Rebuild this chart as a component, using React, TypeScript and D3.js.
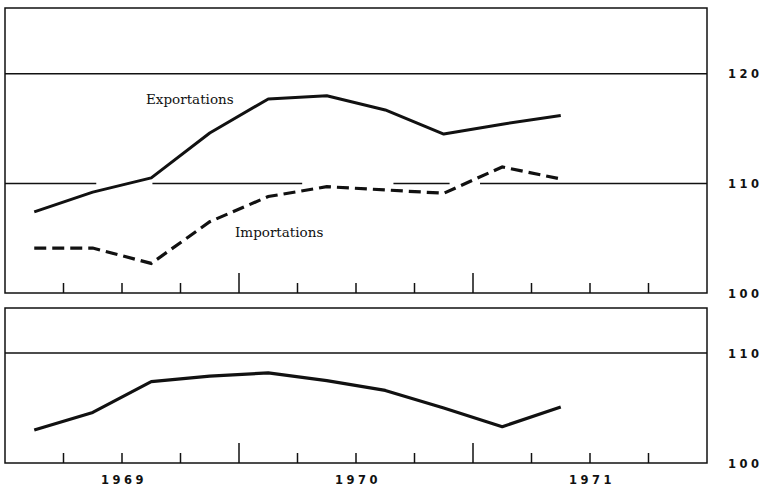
import React, { useEffect, useRef } from "react";
import * as d3 from "d3";

// trimestres (année-trimestre)
const periods = ["1969-1", "1969-2", "1969-3", "1969-4", "1970-1", "1970-2", "1970-3", "1970-4", "1971-1", "1971-2"];
const exportations = [107.4, 109.2, 110.5, 114.6, 117.7, 118.0, 116.7, 114.5, 115.4, 116.2];
const importations = [104.1, 104.1, 102.7, 106.5, 108.8, 109.7, 109.4, 109.1, 111.5, 110.4];
const balance = [103.0, 104.6, 107.4, 107.9, 108.2, 107.5, 106.6, 105.0, 103.3, 105.1];

const years = ["1969", "1970", "1971"];
const topTicks = [100, 110, 120];
const bottomTicks = [100, 110];
// segments visibles de la ligne 110 du graphique du haut (coupures de l'original)
const gridSegments110 = [[1969.0, 1969.39], [1969.63, 1970.27], [1970.66, 1970.9], [1971.03, 1972.0]];

const toTime = (p: string) => {
    const [y, q] = p.split("-").map(Number);
    return y + (q - 0.5) / 4;
};

const App: React.FC = () => {
    const svgRef = useRef<SVGSVGElement | null>(null);

    useEffect(() => {
        if (!svgRef.current) return;
        const svg = d3.select(svgRef.current);
        svg.selectAll("*").remove();

        const x = d3.scaleLinear().domain([1969, 1972]).range([5, 707]);
        const yTop = d3.scaleLinear().domain([100, 126]).range([293, 8]);
        const yBot = d3.scaleLinear().domain([100, 114.1]).range([463, 308]);

        const labelFont = "DejaVu Sans";

        const drawPanel = (y: d3.ScaleLinear<number, number>, ticks: number[], full110: boolean) => {
            const [y0, y1] = y.range();
            // grilles
            ticks.filter((t) => t > 100).forEach((t) => {
                if (t === 110 && !full110) {
                    gridSegments110.forEach(([a, b]) => {
                        svg.append("line")
                            .attr("x1", x(a)).attr("x2", x(b))
                            .attr("y1", y(t)).attr("y2", y(t))
                            .attr("stroke", "#111").attr("stroke-width", 1.5);
                    });
                } else {
                    svg.append("line")
                        .attr("x1", x(1969)).attr("x2", x(1972))
                        .attr("y1", y(t)).attr("y2", y(t))
                        .attr("stroke", "#111").attr("stroke-width", 1.5);
                }
            });
            // cadre
            svg.append("rect")
                .attr("x", x(1969)).attr("y", y1)
                .attr("width", x(1972) - x(1969)).attr("height", y0 - y1)
                .attr("fill", "none").attr("stroke", "#111").attr("stroke-width", 1.5);
            // graduations trimestrielles
            d3.range(1, 12).forEach((i) => {
                const t = 1969 + i / 4;
                const major = i % 4 === 0;
                svg.append("line")
                    .attr("x1", x(t)).attr("x2", x(t))
                    .attr("y1", y0).attr("y2", y0 - (major ? 20 : 10))
                    .attr("stroke", "#111").attr("stroke-width", 1.5);
            });
            // étiquettes à droite
            ticks.forEach((t) => {
                svg.append("text")
                    .attr("x", 728).attr("y", y(t) + 4.5)
                    .attr("font-family", labelFont).attr("font-size", 11.5).attr("font-weight", "bold")
                    .attr("letter-spacing", 3.5).attr("fill", "#111")
                    .text(String(t));
            });
        };

        drawPanel(yTop, topTicks, false);
        drawPanel(yBot, bottomTicks, true);

        const lineTop = d3.line<number>()
            .x((_, i) => x(toTime(periods[i])))
            .y((d) => yTop(d));
        const lineBot = d3.line<number>()
            .x((_, i) => x(toTime(periods[i])))
            .y((d) => yBot(d));

        svg.append("path").datum(exportations)
            .attr("fill", "none").attr("stroke", "#111").attr("stroke-width", 3)
            .attr("stroke-linejoin", "round").attr("d", lineTop);
        svg.append("path").datum(importations)
            .attr("fill", "none").attr("stroke", "#111").attr("stroke-width", 3.2)
            .attr("stroke-dasharray", "12,6").attr("d", lineTop);
        svg.append("path").datum(balance)
            .attr("fill", "none").attr("stroke", "#111").attr("stroke-width", 3.2)
            .attr("stroke-linejoin", "round").attr("d", lineBot);

        // noms des séries
        svg.append("text")
            .attr("x", 146).attr("y", 104)
            .attr("font-family", "DejaVu Serif").attr("font-size", 13.5).attr("fill", "#111")
            .text("Exportations");
        svg.append("text")
            .attr("x", 235).attr("y", 237)
            .attr("font-family", "DejaVu Serif").attr("font-size", 13.5).attr("fill", "#111")
            .text("Importations");

        // années
        years.forEach((yr, i) => {
            svg.append("text")
                .attr("x", x(1969.5 + i) + 2).attr("y", 484)
                .attr("text-anchor", "middle")
                .attr("font-family", labelFont).attr("font-size", 11.5).attr("font-weight", "bold")
                .attr("letter-spacing", 3.5).attr("fill", "#111")
                .text(yr);
        });
    }, []);

    return (
        <svg ref={svgRef} width={780} height={489}
            style={{ position: "absolute", left: 0, top: 0, background: "#fff" }} />
    );
};

export default App;
